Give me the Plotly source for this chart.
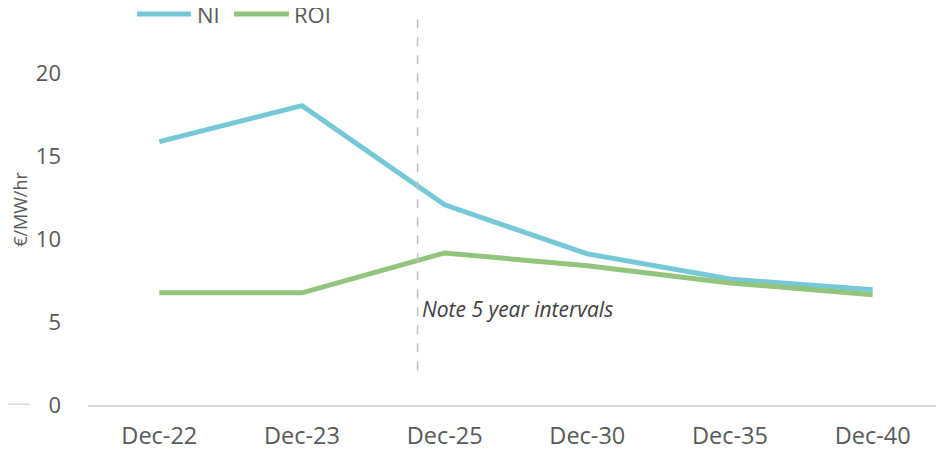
import plotly.graph_objects as go

categories = ["Dec-22", "Dec-23", "Dec-25", "Dec-30", "Dec-35", "Dec-40"]
ni_values = [15.9, 18.07, 12.08, 9.12, 7.6, 6.95]
roi_values = [6.77, 6.77, 9.18, 8.4, 7.37, 6.65]
y_ticks = [0, 5, 10, 15, 20]
note_text = "Note 5 year intervals"

font_family = "Open Sans, Noto Sans, sans-serif"
grey = "#595959"
ni_color = "#75C8D5"
roi_color = "#93C47D"

fig = go.Figure()
fig.add_trace(go.Scatter(x=categories, y=ni_values, mode="lines", name="NI",
                         line=dict(color=ni_color, width=5), showlegend=False))
fig.add_trace(go.Scatter(x=categories, y=roi_values, mode="lines", name="ROI",
                         line=dict(color=roi_color, width=5), showlegend=False))

# manual legend (longer line symbols than Plotly's built-in legend)
legend_items = [("NI", ni_color, 0.0572, 0.1203, 0.1245),
                ("ROI", roi_color, 0.1706, 0.2348, 0.2385)]
for name, color, lx0, lx1, tx in legend_items:
    fig.add_shape(type="line", xref="paper", yref="paper", x0=lx0, x1=lx1, y0=1.0, y1=1.0,
                  line=dict(color=color, width=5))
    fig.add_annotation(xref="paper", yref="paper", x=tx, y=1.0, text=name, showarrow=False,
                       xanchor="left", yanchor="middle", font=dict(size=22, color=grey))

# dashed divider
fig.add_shape(type="line", xref="x", yref="y", x0=1.81, x1=1.81, y0=2.1, y1=23.6,
              line=dict(color="#BFBFBF", width=1.5, dash="dash"))
fig.add_annotation(x=1.83, y=5.8, xref="x", yref="y", text=note_text, showarrow=False,
                   xanchor="left", yanchor="middle",
                   font=dict(family=font_family, size=21, color="#404040", style="italic"))

# cropped fragment at bottom-left
fig.add_shape(type="line", xref="paper", yref="y", x0=-0.103, x1=-0.069, y0=0.05, y1=0.05,
              line=dict(color="#D9D9D9", width=1.5))
fig.add_shape(type="line", xref="paper", yref="y", x0=-0.069, x1=-0.069, y0=0.05, y1=-0.3,
              line=dict(color="#D9D9D9", width=1.5))

fig.update_layout(
    width=936, height=444,
    margin=dict(l=80, r=0, t=6, b=47, autoexpand=False),
    paper_bgcolor="white", plot_bgcolor="white",
    font=dict(family=font_family, color=grey, size=21),
    showlegend=False,
    xaxis=dict(type="category", range=[-0.5, 5.5], showgrid=False, showline=True,
               linecolor="#D9D9D9", linewidth=2, ticks="", tickfont=dict(size=23.5, color=grey),
               ticklabelstandoff=9),
    yaxis=dict(range=[0, 23.6], tickvals=y_ticks, showgrid=False, zeroline=False,
               showline=False, ticks="", tickfont=dict(size=22, color=grey),
               ticklabelstandoff=26,
               title=dict(text="€/MW/hr", font=dict(size=18, color=grey), standoff=9)),
)

fig.write_html("out.html")
